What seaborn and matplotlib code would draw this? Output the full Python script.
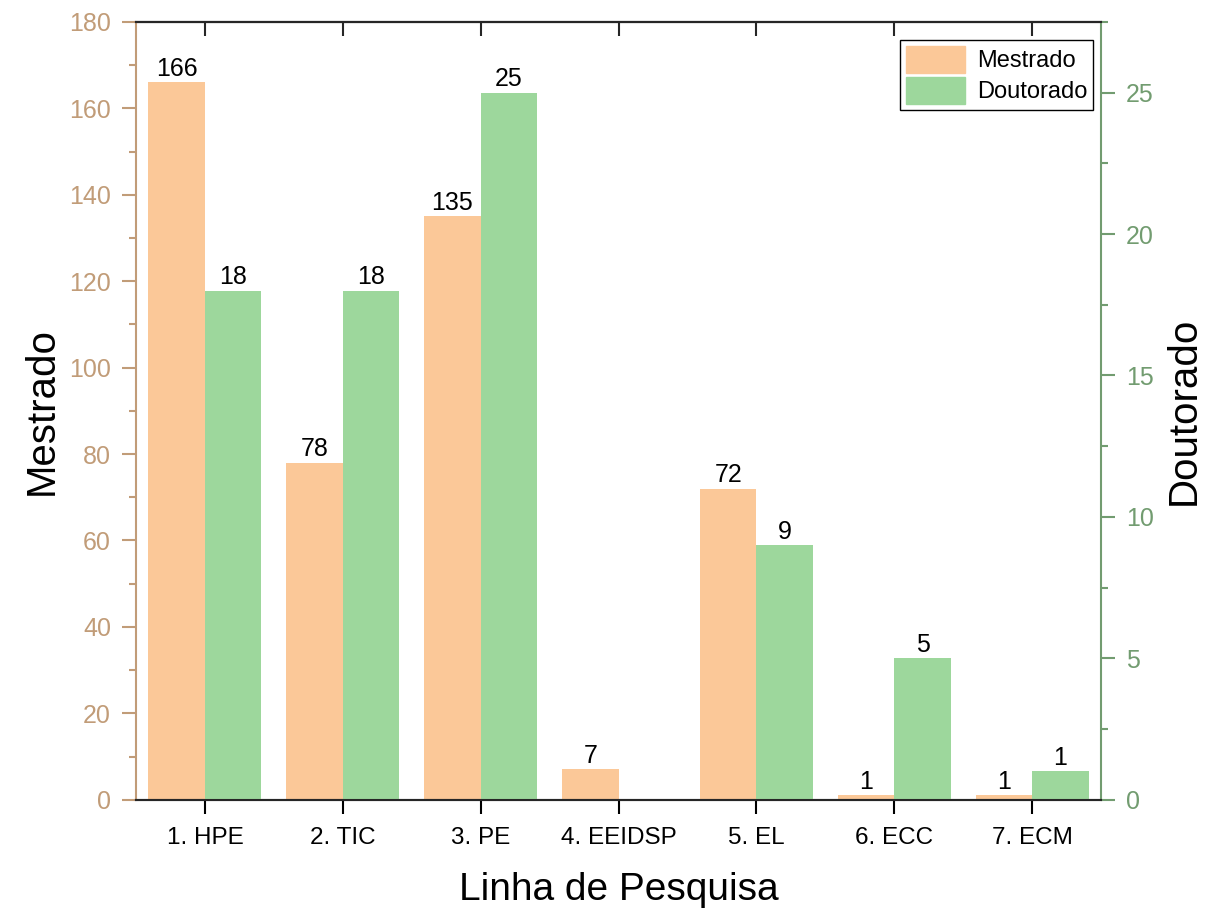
import matplotlib.pyplot as plt
import matplotlib.ticker as mticker
import pandas as pd
import seaborn as sns

# Data
linhas = ['1. HPE', '2. TIC', '3. PE', '4. EEIDSP', '5. EL', '6. ECC', '7. ECM']
mestrado = [166, 78, 135, 7, 72, 1, 1]
doutorado = [18, 18, 25, 0, 9, 5, 1]

c_mest = '#FBC898'
c_dout = '#9DD79C'
c_left = '#C19C78'
c_right = '#729C70'

df = pd.DataFrame({
    'linha': linhas * 2,
    'valor': mestrado + doutorado,
    'curso': ['Mestrado'] * len(linhas) + ['Doutorado'] * len(linhas),
})
hue_order = ['Mestrado', 'Doutorado']
palette = {'Mestrado': c_mest, 'Doutorado': c_dout}

sns.set_style('ticks')
plt.rcParams['font.family'] = ['Liberation Sans', 'DejaVu Sans']
plt.rcParams['text.color'] = 'black'
plt.rcParams['axes.labelcolor'] = 'black'

fig, ax = plt.subplots(figsize=(12.14, 9.15), dpi=100)
fig.subplots_adjust(left=0.112, right=0.907, top=0.976, bottom=0.126)
ax2 = ax.twinx()

# each series on its own axis, dodged by hue
sns.barplot(data=df[df['curso'] == 'Mestrado'], x='linha', y='valor', hue='curso',
            hue_order=hue_order, palette=palette, order=linhas, width=0.82,
            dodge=True, gap=0, ax=ax, legend=False, saturation=1, linewidth=0)
sns.barplot(data=df[df['curso'] == 'Doutorado'], x='linha', y='valor', hue='curso',
            hue_order=hue_order, palette=palette, order=linhas, width=0.82,
            dodge=True, gap=0, ax=ax2, legend=False, saturation=1, linewidth=0)

# value labels
for a in (ax, ax2):
    for cont in a.containers:
        labels = [f'{int(b.get_height())}' if b.get_height() > 0 else '' for b in cont]
        a.bar_label(cont, labels=labels, padding=1, fontsize=18, color='black')

ax.set_xlim(-0.5, 6.5)
ax.set_ylim(0, 180)
ax2.set_ylim(0, 27.5)

ax.yaxis.set_major_locator(mticker.MultipleLocator(20))
ax.yaxis.set_minor_locator(mticker.MultipleLocator(10))
ax2.yaxis.set_major_locator(mticker.MultipleLocator(5))
ax2.yaxis.set_minor_locator(mticker.MultipleLocator(2.5))

ax.set_xlabel('Linha de Pesquisa', fontsize=28, labelpad=16)
ax.set_ylabel('Mestrado', fontsize=29, labelpad=6)
ax2.set_ylabel('Doutorado', fontsize=29, labelpad=8)

ax.tick_params(axis='x', which='major', length=10, width=1.5, labelsize=17.5, pad=10,
               color='black', labelcolor='black')
ax.tick_params(axis='y', which='major', length=10, width=1.5, colors=c_left,
               labelsize=18, labelcolor=c_left, pad=8)
ax.tick_params(axis='y', which='minor', length=5, width=1.5, colors=c_left)
ax2.tick_params(axis='y', which='major', length=10, width=1.5, colors=c_right,
                labelsize=18, labelcolor=c_right, pad=8)
ax2.tick_params(axis='y', which='minor', length=5, width=1.5, colors=c_right)

# top ticks pointing inward
secx = ax.secondary_xaxis('top')
secx.set_xticks(range(len(linhas)))
secx.set_xticklabels([])
secx.tick_params(direction='in', length=10, width=1.5)
secx.spines['top'].set_linewidth(1.5)

for a in (ax, ax2):
    for s in a.spines.values():
        s.set_linewidth(1.5)
    a.spines['top'].set_visible(True)
ax.spines['left'].set_color(c_left)
ax2.spines['left'].set_visible(False)
ax2.spines['right'].set_color(c_right)
ax.spines['right'].set_visible(False)

handles = [plt.Rectangle((0, 0), 1, 1, color=c_mest), plt.Rectangle((0, 0), 1, 1, color=c_dout)]
leg = ax2.legend(handles, hue_order, loc='upper right', bbox_to_anchor=(0.992, 0.977),
                 fontsize=17, frameon=True, fancybox=False, edgecolor='black',
                 framealpha=1, handlelength=2.5, handleheight=1.4, borderaxespad=0,
                 handletextpad=0.5, borderpad=0.25, labelspacing=0.15)
leg.get_frame().set_linewidth(1.0)

fig.savefig('out.png', dpi=100)
